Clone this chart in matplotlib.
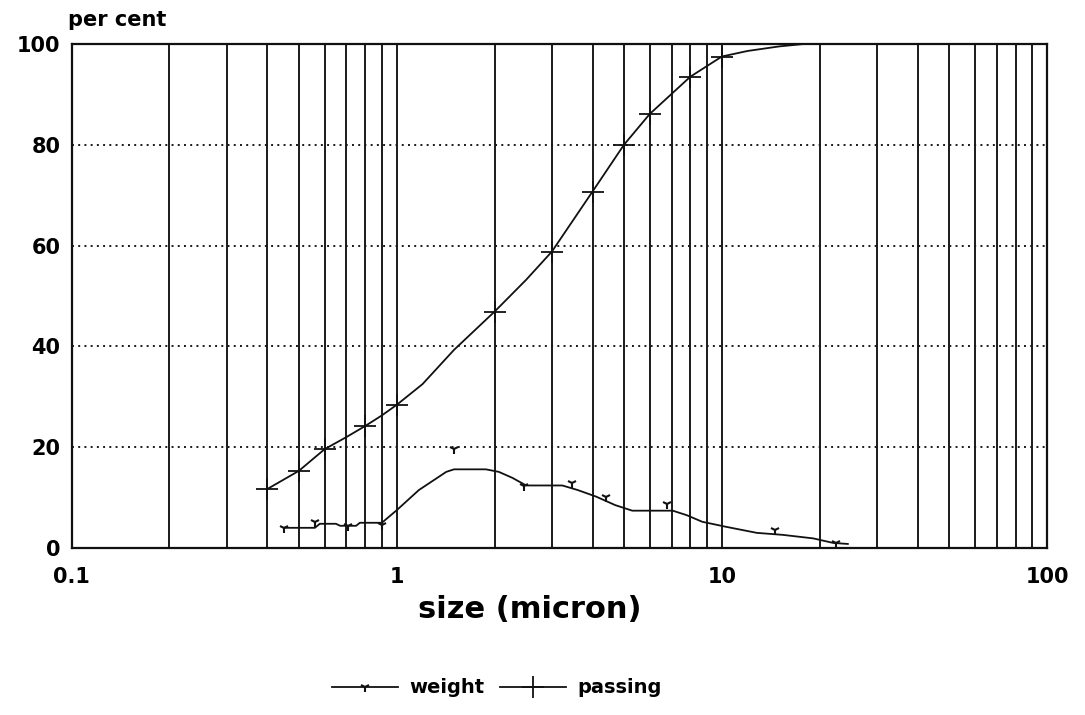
import matplotlib
matplotlib.use('Agg')
import matplotlib.pyplot as plt
from matplotlib.ticker import FixedLocator, NullFormatter, NullLocator

# cumulative passing (%)
passing_size = [0.4, 0.5, 0.6, 0.7, 0.8, 0.9, 1.0, 1.2, 1.5, 2.0, 2.5, 3.0, 4.0, 5.0,
                6.0, 8.0, 10.0, 12.0, 15.0, 18.0]
passing_pct = [11.7, 15.3, 19.6, 22.0, 24.2, 26.3, 28.4, 32.5, 39.3, 46.9, 53.2, 58.8,
               70.7, 80.0, 86.1, 93.5, 97.5, 98.6, 99.5, 100.0]
passing_marks = [0, 1, 2, 4, 6, 9, 11, 12, 13, 14, 15, 16]

# weight (%) per size class
weight_size = [0.45, 0.56, 0.58, 0.65, 0.67, 0.75, 0.77, 0.9, 1.0, 1.17, 1.42, 1.5, 1.88,
               2.06, 2.27, 2.5, 3.23, 3.6, 4.1, 4.7, 5.3, 7.06, 7.8, 8.7, 10.3, 12.8,
               15.4, 19.1, 22.0, 24.4]
weight_pct = [4.0, 4.0, 4.8, 4.8, 4.4, 4.4, 5.0, 5.0, 7.5, 11.5, 15.1, 15.6, 15.6,
              15.1, 13.9, 12.4, 12.4, 11.5, 10.2, 8.5, 7.4, 7.4, 6.5, 5.2, 4.2, 3.0,
              2.6, 1.9, 1.0, 0.8]
weight_mark_size = [0.56, 0.71, 0.9, 1.5, 2.47, 3.47, 4.4, 6.76, 14.6, 22.5]
weight_mark_pct = [5.2, 4.4, 4.6, 19.6, 12.3, 12.9, 10.1, 8.7, 3.6, 0.9]

y_ticks = [0, 20, 40, 60, 80, 100]
x_ticks = [0.1, 1, 10, 100]
x_labels = ['0.1', '1', '10', '100']

plt.rcParams['font.family'] = 'DejaVu Sans'
plt.rcParams['font.weight'] = 'bold'

fig = plt.figure(figsize=(10.85, 7.15), dpi=100)
ax = fig.add_axes([0.066, 0.2336, 0.899, 0.705])

ax.set_xscale('log')
ax.set_xlim(0.1, 100)
ax.set_ylim(0, 100)

# vertical grid on every 1-9 multiple, solid
vlines = [m * d for d in (0.1, 1, 10) for m in range(2, 10)] + [1, 10]
for v in vlines:
    ax.axvline(v, color='#1a1a1a', lw=1.4, zorder=1)
for h in [20, 40, 60, 80]:
    ax.axhline(h, color='#1a1a1a', lw=1.4, ls=(0, (1, 2.2)), zorder=1)

ax.plot(weight_size, weight_pct, color='#111111', lw=1.3, zorder=3, label='weight',
        marker='1', markevery=[0], markersize=7, markeredgewidth=1.5)
ax.plot(weight_mark_size, weight_mark_pct, ls='none', marker='1', color='#111111',
        markersize=7, markeredgewidth=1.5, zorder=3)
ax.plot(passing_size, passing_pct, color='#111111', lw=1.3, zorder=3, label='passing',
        marker='+', markevery=passing_marks, markersize=16, markeredgewidth=1.3)

ax.xaxis.set_major_locator(FixedLocator(x_ticks))
ax.xaxis.set_minor_locator(NullLocator())
ax.xaxis.set_minor_formatter(NullFormatter())
ax.set_xticklabels(x_labels)
ax.set_yticks(y_ticks)
ax.tick_params(length=0, labelsize=15)
ax.tick_params(axis='x', pad=14)
ax.tick_params(axis='y', pad=8)
for lbl in ax.get_xticklabels() + ax.get_yticklabels():
    lbl.set_fontweight('bold')

for s in ax.spines.values():
    s.set_linewidth(1.6)
    s.set_color('#111111')

fig.text(0.488, 0.148, 'size (micron)', fontsize=22, fontweight='bold',
         ha='center', va='center')
fig.text(0.063, 0.963, 'per cent', fontsize=15, fontweight='bold')

fig.legend(loc='center', bbox_to_anchor=(0.458, 0.038), ncol=2, frameon=False,
           fontsize=14, handlelength=3.4, columnspacing=0.8, handletextpad=0.6)

fig.savefig('out.png', dpi=100)
